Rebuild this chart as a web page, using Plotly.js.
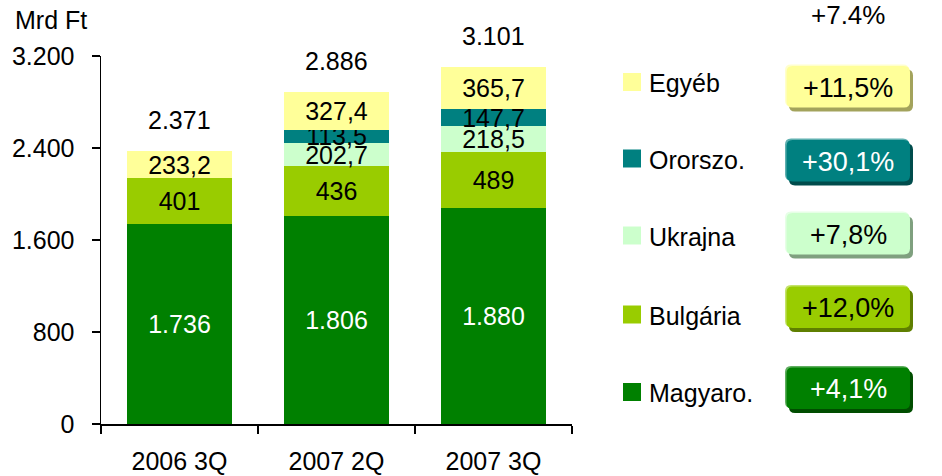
<!DOCTYPE html>
<html>
<head>
<meta charset="utf-8">
<script src="https://cdn.plot.ly/plotly-3.0.1.min.js"></script>
<style>html,body{margin:0;padding:0;background:#fff;}#chart{width:942px;height:476px;}</style>
</head>
<body>
<div id="chart"></div>
<script>
// ---- data ----
const categories = ['2006 3Q', '2007 2Q', '2007 3Q'];
const magyaro = [1736, 1806, 1880];
const bulgaria = [401, 436, 489];
const ukrajna = [null, 202.7, 218.5];
const ororszo = [null, 113.5, 147.7];
const egyeb = [233.2, 327.4, 365.7];
const totals = [2371, 2886, 3101];
const seriesNames = ['Magyaro.', 'Bulgária', 'Ukrajna', 'Ororszo.', 'Egyéb'];
const growthLabels = ['+4,1%', '+12,0%', '+7,8%', '+30,1%', '+11,5%'];
const totalGrowth = '+7.4%';
const yTickVals = [0, 800, 1600, 2400, 3200];
const yAxisTitle = 'Mrd Ft';

// ---- styles ----
const FONT = '"Liberation Sans", Arial, sans-serif';
const colors = ['#008000', '#99CC00', '#CCFFCC', '#008080', '#FFFF99'];
const shadowColors = ['#004d00', '#5f7f00', '#7fa07f', '#004c4c', '#a3a35c'];
const highlightColors = ['#5fae5f', '#c4e36a', '#e6ffe6', '#5fb0b0', '#ffffcc'];
const insideTextColors = ['#ffffff', '#000000', '#000000', '#000000', '#000000'];
const badgeTextColors = ['#ffffff', '#000000', '#000000', '#ffffff', '#000000'];
const formats = ['%{y:,d}', '%{y:,d}', '%{y:,.1f}', '%{y:,.1f}', '%{y:,.1f}'];
const seriesValues = [magyaro, bulgaria, ukrajna, ororszo, egyeb];

const M = {l: 101, r: 370, t: 56, b: 52};
const W = 942, H = 476;
const PW = W - M.l - M.r, PH = H - M.t - M.b;
const px = x => (x - M.l) / PW;
const py = y => (H - M.b - y) / PH;

function roundRect(x0, y0, x1, y1, r) {
  const X = v => px(v).toFixed(5), Y = v => py(v).toFixed(5);
  return 'M' + X(x0 + r) + ',' + Y(y0) +
    ' L' + X(x1 - r) + ',' + Y(y0) +
    ' Q' + X(x1) + ',' + Y(y0) + ' ' + X(x1) + ',' + Y(y0 + r) +
    ' L' + X(x1) + ',' + Y(y1 - r) +
    ' Q' + X(x1) + ',' + Y(y1) + ' ' + X(x1 - r) + ',' + Y(y1) +
    ' L' + X(x0 + r) + ',' + Y(y1) +
    ' Q' + X(x0) + ',' + Y(y1) + ' ' + X(x0) + ',' + Y(y1 - r) +
    ' L' + X(x0) + ',' + Y(y0 + r) +
    ' Q' + X(x0) + ',' + Y(y0) + ' ' + X(x0 + r) + ',' + Y(y0) + ' Z';
}

const traces = seriesValues.map((vals, i) => ({
  type: 'bar',
  name: seriesNames[i],
  x: categories,
  y: vals,
  marker: {color: colors[i], line: {width: 0}},
  texttemplate: formats[i],
  textposition: 'inside',
  insidetextanchor: 'middle',
  constraintext: 'none',
  textangle: 0,
  textfont: {family: FONT, size: 25, color: insideTextColors[i]},
  hoverinfo: 'skip',
  cliponaxis: false
}));

function fmtThousands(v) {
  return String(v).replace(/\B(?=(\d{3})+(?!\d))/g, '.');
}

const annotations = [];
const shapes = [];

totals.forEach((t, i) => {
  annotations.push({
    x: categories[i], y: t, xref: 'x', yref: 'y',
    text: fmtThousands(t), showarrow: false,
    yanchor: 'bottom', yshift: 15,
    font: {family: FONT, size: 25, color: '#000'}
  });
});

annotations.push({
  xref: 'paper', yref: 'paper', x: px(13), y: py(20), xanchor: 'left', yanchor: 'middle',
  text: yAxisTitle, showarrow: false, font: {family: FONT, size: 25, color: '#000'}
});
annotations.push({
  xref: 'paper', yref: 'paper', x: px(848), y: py(15), xanchor: 'center', yanchor: 'middle',
  text: totalGrowth, showarrow: false, font: {family: FONT, size: 26, color: '#000'}
});

// custom legend + growth badges
const legendRowY = [392, 314.5, 235.5, 158.5, 82];
const badgeRowY = [388, 307, 233.5, 160.5, 86.5];
seriesNames.forEach((name, i) => {
  const cy = legendRowY[i];
  shapes.push({
    type: 'rect', xref: 'paper', yref: 'paper',
    x0: px(623), x1: px(641), y0: py(cy + 9), y1: py(cy - 9),
    fillcolor: colors[i], line: {width: 0}
  });
  annotations.push({
    xref: 'paper', yref: 'paper', x: px(647), y: py(cy + 1), xanchor: 'left', yanchor: 'middle',
    text: name, showarrow: false, font: {family: FONT, size: 25, color: '#000'}
  });
  const by = badgeRowY[i];
  shapes.push({
    type: 'path', xref: 'paper', yref: 'paper',
    path: roundRect(789, by - 21 + 4, 913, by + 21 + 4, 6),
    fillcolor: shadowColors[i], line: {width: 0}
  });
  shapes.push({
    type: 'path', xref: 'paper', yref: 'paper',
    path: roundRect(785, by - 22, 909, by + 20, 6),
    fillcolor: highlightColors[i], line: {width: 0}
  });
  shapes.push({
    type: 'path', xref: 'paper', yref: 'paper',
    path: roundRect(786.5, by - 20.5, 910, by + 21, 6),
    fillcolor: colors[i], line: {width: 0}
  });
  annotations.push({
    xref: 'paper', yref: 'paper', x: px(848), y: py(by + 1), xanchor: 'center', yanchor: 'middle',
    text: growthLabels[i], showarrow: false, font: {family: FONT, size: 27, color: badgeTextColors[i]}
  });
});

const layout = {
  width: W, height: H,
  margin: M,
  paper_bgcolor: '#fff', plot_bgcolor: '#fff',
  barmode: 'stack',
  bargap: 0.325,
  showlegend: false,
  separators: ',.',
  font: {family: FONT, size: 25, color: '#000'},
  xaxis: {
    type: 'category',
    showline: true, linecolor: '#000', linewidth: 1.5,
    ticks: 'outside', tickson: 'boundaries', ticklen: 8, tickwidth: 1.5, tickcolor: '#000',
    showgrid: false, zeroline: false,
    tickfont: {family: FONT, size: 25, color: '#000'},
    ticklabelstandoff: 14,
    fixedrange: true
  },
  yaxis: {
    range: [0, 3200],
    tickvals: yTickVals,
    tickformat: ',d',
    showline: true, linecolor: '#000', linewidth: 1.5,
    ticks: 'outside', ticklen: 8, tickwidth: 1.5, tickcolor: '#000',
    showgrid: false, zeroline: false,
    tickfont: {family: FONT, size: 25, color: '#000'},
    ticklabelstandoff: 12,
    fixedrange: true
  },
  shapes: shapes,
  annotations: annotations
};

Plotly.newPlot('chart', traces, layout, {staticPlot: true, displayModeBar: false});
</script>
</body>
</html>
